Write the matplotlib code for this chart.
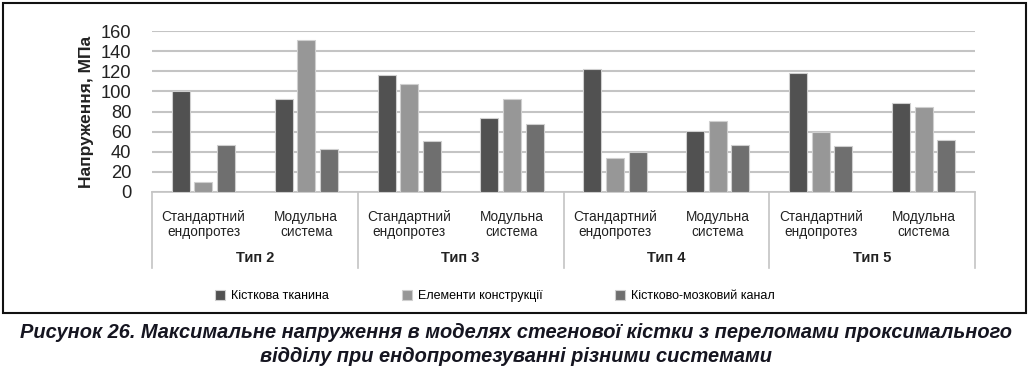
import matplotlib
matplotlib.use("Agg")
import numpy as np
import matplotlib.pyplot as plt
import matplotlib.patches as patches

plt.rcParams['font.family'] = ['Liberation Sans', 'DejaVu Sans']

# Data
groups = ["Тип 2", "Тип 3", "Тип 4", "Тип 5"]
subcats = ["Стандартний\nендопротез", "Модульна\nсистема"]
series_names = ["Кісткова тканина", "Елементи конструкції", "Кістково-мозковий канал"]
bone = [100, 92, 116, 74, 122, 61, 118, 88]
elements = [10, 151, 107, 92, 34, 71, 60, 84]
canal = [47, 43, 51, 68, 40, 47, 46, 52]
colors = ["#515151", "#979797", "#6f6f6f"]

W, H = 1031, 372
fig = plt.figure(figsize=(W / 100, H / 100), dpi=100)
ax = fig.add_axes([152 / W, 1 - 192 / H, 823 / W, 161 / H])

x = np.arange(len(bone))
bw = 0.175
step = 0.22
for i, (vals, c, name) in enumerate(zip([bone, elements, canal], colors, series_names)):
    ax.bar(x + (i - 1) * step, vals, width=bw, color=c, edgecolor="#cfcfcf",
           linewidth=0.8, label=name, zorder=3)

ax.set_xlim(-0.5, len(bone) - 0.5)
ax.set_ylim(0, 160)
ax.set_yticks(range(0, 161, 20))
ax.tick_params(axis='y', length=0, labelsize=13.2, pad=15, colors="#222222")
ax.yaxis.grid(True, color="#c4c4c4", linewidth=1.5, zorder=0)
ax.set_axisbelow(True)
for s in ["top", "right", "left"]:
    ax.spines[s].set_visible(False)
ax.spines["bottom"].set_color("#c4c4c4")
ax.spines["bottom"].set_linewidth(1.2)

ax.set_xticks(x)
ax.set_xticklabels(subcats * len(groups), fontsize=9.8, color="#222222", linespacing=1.12)
ax.tick_params(axis='x', length=0, pad=13)

ax.set_ylabel("Напруження, МПа", fontsize=12.5, fontweight="bold", labelpad=5, color="#222222")

# multi-level category separators and group labels
trans = ax.get_xaxis_transform()
for b in np.arange(-0.5, len(bone), 2):
    ax.plot([b, b], [0, -76 / 161], transform=trans, color="#c4c4c4",
            linewidth=1.2, clip_on=False)
for gi, g in enumerate(groups):
    ax.text(gi * 2 + 0.5, -66 / 161, g, transform=trans, ha="center", va="center",
            fontsize=10.5, fontweight="bold", color="#222222")

handles, labels = ax.get_legend_handles_labels()
fig.legend(handles, labels, loc="center", bbox_to_anchor=(495 / W, 1 - 296 / H), ncol=3,
           frameon=False, fontsize=9, handlelength=0.8, handleheight=0.8,
           handletextpad=0.5, columnspacing=5.8)

# frame around chart
fig.patches.append(patches.Rectangle((3 / W, 1 - 313 / H), 1023 / W, 310 / H,
                                     transform=fig.transFigure, fill=False,
                                     edgecolor="#111111", linewidth=1.5))

fig.text(0.5, 1 - 333 / H,
         "Рисунок 26. Максимальне напруження в моделях стегнової кістки з переломами проксимального",
         ha="center", va="center", fontsize=14.4, fontweight="bold", style="italic", color="#151520")
fig.text(0.5, 1 - 357 / H, "відділу при ендопротезуванні різними системами",
         ha="center", va="center", fontsize=14.4, fontweight="bold", style="italic", color="#151520")

fig.savefig("out.png", dpi=100)
